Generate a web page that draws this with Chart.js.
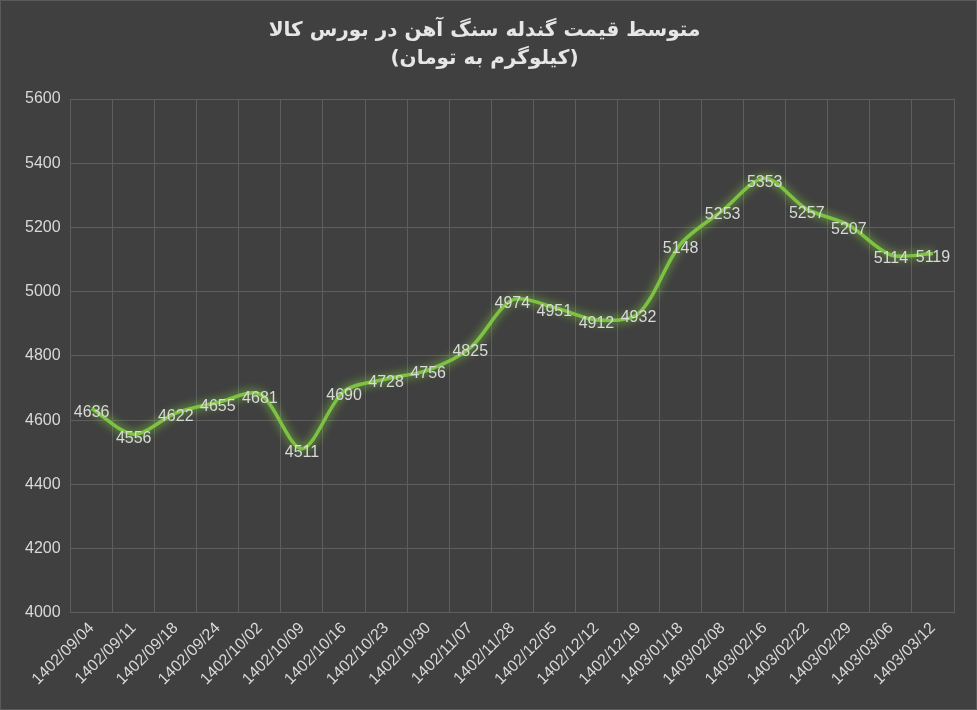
<!DOCTYPE html>
<html><head><meta charset="utf-8">
<script src="https://cdn.jsdelivr.net/npm/chart.js@4"></script>
<style>html,body{margin:0;padding:0;background:#404040;}#w{width:977px;height:710px;position:relative;box-sizing:border-box;border:1px solid #5a5a5a;}</style>
</head><body><div id="w"><canvas id="c"></canvas></div>
<script>
const categories=["1402/09/04","1402/09/11","1402/09/18","1402/09/24","1402/10/02","1402/10/09","1402/10/16","1402/10/23","1402/10/30","1402/11/07","1402/11/28","1402/12/05","1402/12/12","1402/12/19","1403/01/18","1403/02/08","1403/02/16","1403/02/22","1403/02/29","1403/03/06","1403/03/12"];
const prices=[4636,4556,4622,4655,4681,4511,4690,4728,4756,4825,4974,4951,4912,4932,5148,5253,5353,5257,5207,5114,5119];
const yTicks=[4000,4200,4400,4600,4800,5000,5200,5400,5600];
const titleLines=["متوسط قیمت گندله سنگ آهن در بورس کالا","(کیلوگرم به تومان)"];
const glow={id:'glow',beforeDatasetDraw(ch){const x=ch.ctx;x.save();x.shadowColor='rgba(140,230,60,0.9)';x.shadowBlur=10;},afterDatasetDraw(ch){ch.ctx.restore();}};
const labels={id:'lbl',afterDatasetsDraw(ch){const x=ch.ctx;const m=ch.getDatasetMeta(0);x.save();x.font='16px "Liberation Sans", Arial, sans-serif';x.fillStyle='#d9d9d9';x.textAlign='center';x.textBaseline='middle';m.data.forEach((p,i)=>{x.fillText(String(prices[i]),p.x,p.y+4);});x.restore();}};
new Chart(document.getElementById('c'),{type:'line',
data:{labels:categories,datasets:[{data:prices,borderColor:'#7dc242',borderWidth:3.5,pointRadius:0,tension:0.3,fill:false}]},
options:{responsive:true,maintainAspectRatio:false,animation:false,
layout:{padding:{left:14,right:22,top:12,bottom:14}},
plugins:{legend:{display:false},tooltip:{enabled:false},
title:{display:true,text:titleLines,color:'#e6e6e6',font:{family:'"DejaVu Sans", sans-serif',size:20,weight:'bold',lineHeight:1.4},padding:{top:4,bottom:26}}},
scales:{x:{offset:true,grid:{color:'#5e5e5e',offset:true,drawTicks:false},border:{color:'#5e5e5e'},
ticks:{color:'#d9d9d9',font:{family:'"Liberation Sans", Arial, sans-serif',size:16},maxRotation:45,minRotation:45,padding:6,autoSkip:false}},
y:{min:4000,max:5600,afterBuildTicks(a){a.ticks=yTicks.map(v=>({value:v}));},grid:{color:'#5e5e5e',drawTicks:false},border:{display:false},
ticks:{color:'#d9d9d9',font:{family:'"Liberation Sans", Arial, sans-serif',size:16},padding:10,callback:v=>String(v)}}}},
plugins:[glow,labels]});
</script></body></html>
